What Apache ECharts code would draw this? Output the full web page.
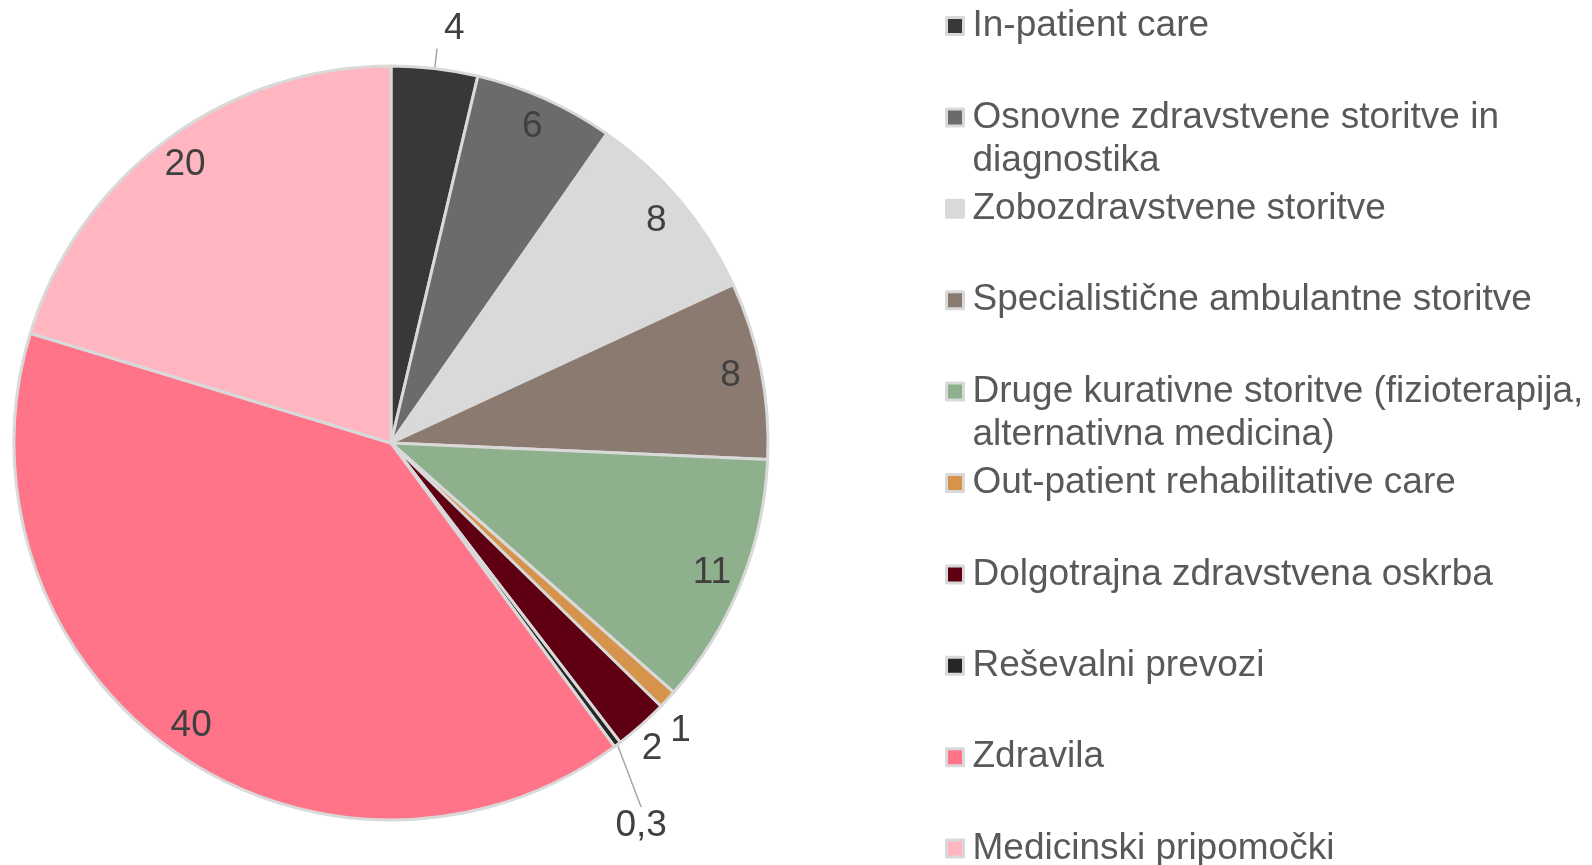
<!DOCTYPE html>
<html>
<head>
	<meta charset="utf-8" />
	<title>Struktura izdatkov</title>
	<script src="https://cdn.jsdelivr.net/npm/echarts@6/dist/echarts.min.js"></script>
	<style>
		html, body { margin: 0; padding: 0; background: #fff; }
		#pieMap { width: 1592px; height: 865px; }
	</style>
</head>
<body>
	<div id="pieMap"></div>
	<script type="text/javascript">
		// categories, values (share in %), colours
		const categories = [
			'In-patient care',
			'Osnovne zdravstvene storitve in diagnostika',
			'Zobozdravstvene storitve',
			'Specialistične ambulantne storitve',
			'Druge kurativne storitve (fizioterapija, alternativna medicina)',
			'Out-patient rehabilitative care',
			'Dolgotrajna zdravstvena oskrba',
			'Reševalni prevozi',
			'Zdravila',
			'Medicinski pripomočki'
		];
		const shares = [3.7, 6.0, 8.4, 7.6, 10.8, 0.8, 2.3, 0.3, 39.8, 20.3];
		const colors = ['#383838', '#6b6b6b', '#d9d9d9', '#8b7a70', '#8fb08c',
			'#d6934b', '#5e0012', '#262626', '#ff7489', '#ffb6c1'];

		// slices whose label sits outside the pie
		const outsideIdx = [0, 5, 6, 7];

		const center = [391, 443];
		const radius = 377;
		const font = "'Liberation Sans', Arial, sans-serif";
		const lineH = 43;

		const fmtShare = function (v) {
			if (v < 0.5) return String(v).replace('.', ',');
			return String(Math.round(v));
		};

		// wrap legend text at about 40 characters; pad to 3 lines so the
		// icon lines up with the first line of text
		const wrapName = function (name) {
			const words = name.split(' ');
			let lines = [''];
			words.forEach(function (w) {
				const cur = lines[lines.length - 1];
				const next = cur ? cur + ' ' + w : w;
				if (next.length > 40 && cur) {
					lines.push(w);
				} else {
					lines[lines.length - 1] = next;
				}
			});
			if (lines.length < 2) lines.push(' ');
			return ' \n' + lines.join('\n');
		};

		const outsideLine = {
			0: { length: 20, length2: 0, show: true },
			5: { length: 12, length2: 0, show: false },
			6: { length: 4, length2: 0, show: false },
			7: { length: 50, length2: 0, show: true }
		};
		// small nudges of the outside labels
		const labelNudge = {
			0: [2, -20],
			5: [-11, 23],
			6: [-7, 21]
		};
		// label moved below the slice tip, its leader line is re-routed
		const labelBelow = { 7: [-37, 41] };

		const mainData = categories.map(function (name, i) {
			const outside = outsideIdx.indexOf(i) >= 0;
			return {
				name: name,
				value: shares[i],
				itemStyle: { color: colors[i] },
				label: { show: outside },
				labelLine: outside ? outsideLine[i] : { show: false }
			};
		});

		const innerData = categories.map(function (name, i) {
			return {
				name: name,
				value: shares[i],
				label: { show: outsideIdx.indexOf(i) < 0 }
			};
		});

		const pieMap = echarts.init(document.getElementById('pieMap'));

		const pieMapOpt = {
			animation: false,
			legend: {
				data: categories,
				orient: 'vertical',
				left: 945,
				top: 34.5 - 8.5 - 1.5 * lineH,
				height: 1100,
				padding: 0,
				itemGap: 91.4 - 3 * lineH,
				itemWidth: 17,
				itemHeight: 17,
				icon: 'rect',
				selectedMode: false,
				itemStyle: {
					borderColor: '#d9d9d9',
					borderWidth: 3
				},
				formatter: wrapName,
				textStyle: {
					fontFamily: font,
					fontSize: 37,
					color: '#595959',
					lineHeight: lineH,
					padding: [0, 0, 0, 4]
				}
			},
			series: [{
				name: 'share',
				type: 'pie',
				center: center,
				radius: [0, radius],
				startAngle: 90,
				clockwise: true,
				avoidLabelOverlap: false,
				emphasis: { disabled: true },
				itemStyle: {
					borderColor: '#d9d9d9',
					borderWidth: 3
				},
				label: {
					position: 'outside',
					fontFamily: font,
					fontSize: 37,
					color: '#404040',
					formatter: function (p) { return fmtShare(p.value); }
				},
				labelLine: {
					lineStyle: { color: '#a6a6a6', width: 1.5 }
				},
				labelLayout: function (p) {
					const b = labelBelow[p.dataIndex];
					if (b) {
						return {
							x: p.labelRect.x + b[0],
							y: p.labelRect.y + b[1],
							align: 'left',
							verticalAlign: 'top'
						};
					}
					const n = labelNudge[p.dataIndex];
					return n ? { dx: n[0], dy: n[1] } : {};
				},
				data: mainData
			}, {
				name: 'labels',
				type: 'pie',
				center: center,
				radius: [radius - 68, radius],
				startAngle: 90,
				clockwise: true,
				silent: true,
				emphasis: { disabled: true },
				itemStyle: { color: 'rgba(0,0,0,0)', borderWidth: 0 },
				label: {
					position: 'inside',
					fontFamily: font,
					fontSize: 37,
					color: '#404040',
					formatter: function (p) { return fmtShare(p.value); }
				},
				labelLine: { show: false },
				data: innerData
			}]
		};

		pieMap.setOption(pieMapOpt);

		window.onresize = function () {
			pieMap.resize();
		};
	</script>
</body>
</html>
